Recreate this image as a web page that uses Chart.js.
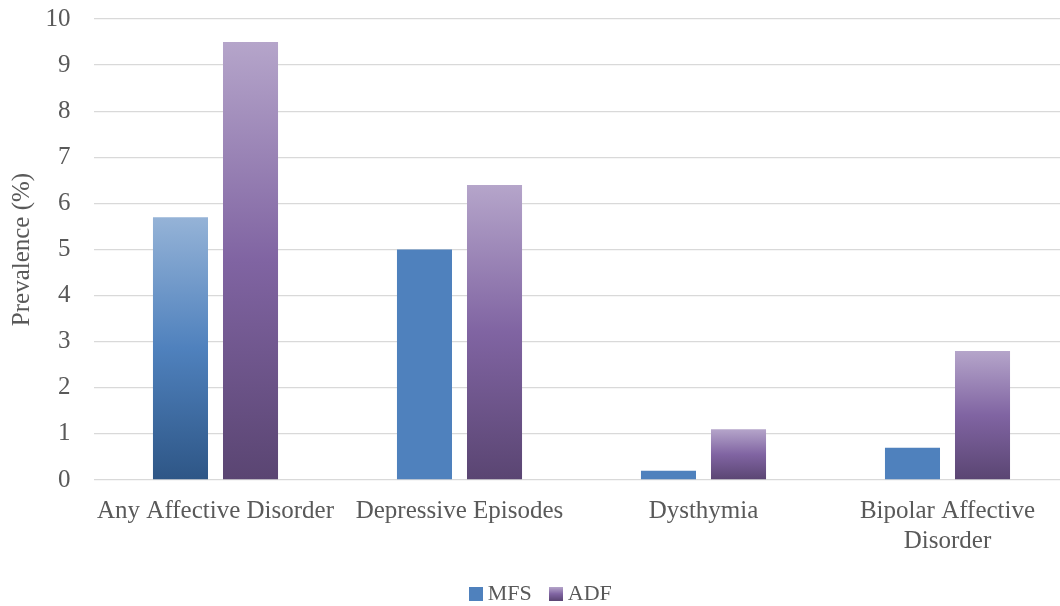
<!DOCTYPE html>
<html>
<head>
<meta charset="utf-8">
<script src="https://cdn.jsdelivr.net/npm/chart.js@4/dist/chart.umd.min.js"></script>
<style>
  html, body { margin: 0; padding: 0; overflow: hidden; background: #fff; }
  #wrap { width: 1080px; height: 615px; }
</style>
</head>
<body>
<div id="wrap"><canvas id="c" width="1080" height="615"></canvas></div>
<script>
// Prevalence of affective disorders, MFS vs ADF
const categories = ['Any Affective Disorder', 'Depressive Episodes', 'Dysthymia', ['Bipolar Affective', 'Disorder']];
const seriesNames = ['MFS', 'ADF'];
const mfsValues = [5.7, 5.0, 0.2, 0.7];
const adfValues = [9.5, 6.4, 1.1, 2.8];
const yTicks = [0, 1, 2, 3, 4, 5, 6, 7, 8, 9, 10];

// colours: light top, base middle, dark bottom
const blueStops = ['#95B3D7', '#4F81BD', '#2E5686'];
const purpleStops = ['#B5A5CA', '#8064A2', '#5A4572'];
const blueSolid = '#4F81BD';
const shadedMfs = [0]; // category indexes whose MFS bar is shaded

const FONT = "'Liberation Serif', 'Times New Roman', serif";
const SIZE = 25;
const LEGEND_SIZE = 22;
const TEXT = '#595959';

function barGradient(ctx, stops) {
  const chart = ctx.chart;
  if (!chart.chartArea || ctx.type !== 'data') return stops[1];
  const y = chart.scales.y;
  const top = y.getPixelForValue(ctx.raw);
  const base = y.getPixelForValue(0);
  if (!isFinite(top) || !isFinite(base) || top === base) return stops[1];
  const g = chart.ctx.createLinearGradient(0, top, 0, base);
  g.addColorStop(0, stops[0]);
  g.addColorStop(0.5, stops[1]);
  g.addColorStop(1, stops[2]);
  return g;
}

function swatch(stops) {
  const cv = document.createElement('canvas');
  cv.width = 14; cv.height = 14;
  const c = cv.getContext('2d');
  if (Array.isArray(stops)) {
    const g = c.createLinearGradient(0, 0, 0, 14);
    g.addColorStop(0, stops[0]); g.addColorStop(0.5, stops[1]); g.addColorStop(1, stops[2]);
    c.fillStyle = g;
  } else {
    c.fillStyle = stops;
  }
  c.fillRect(0, 0, 14, 14);
  return cv;
}
const legendSwatches = [swatch(blueSolid), swatch(purpleStops)];

new Chart(document.getElementById('c'), {
  type: 'bar',
  data: {
    labels: categories,
    datasets: [
      {
        label: seriesNames[0],
        data: mfsValues,
        backgroundColor: (ctx) => shadedMfs.includes(ctx.dataIndex) ? barGradient(ctx, blueStops) : blueSolid,
        borderWidth: 0,
        categoryPercentage: 0.574,
        barPercentage: 0.786
      },
      {
        label: seriesNames[1],
        data: adfValues,
        backgroundColor: (ctx) => barGradient(ctx, purpleStops),
        borderWidth: 0,
        categoryPercentage: 0.574,
        barPercentage: 0.786
      }
    ]
  },
  options: {
    responsive: false,
    animation: false,
    events: [],
    layout: { padding: { top: 19, left: 18, right: 10.5, bottom: 0 } },
    plugins: {
      tooltip: { enabled: false },
      legend: {
        position: 'bottom',
        labels: {
          usePointStyle: true,
          pointStyleWidth: 1,
          padding: 24,
          color: TEXT,
          font: { family: FONT, size: LEGEND_SIZE },
          generateLabels: (chart) => chart.data.datasets.map((ds, i) => ({
            text: ds.label,
            pointStyle: legendSwatches[i],
            fillStyle: i === 0 ? blueSolid : purpleStops[1],
            strokeStyle: 'transparent',
            lineWidth: 0,
            fontColor: TEXT,
            hidden: false,
            datasetIndex: i
          }))
        }
      }
    },
    scales: {
      x: {
        grid: { display: false, drawTicks: false },
        border: { display: false },
        ticks: {
          color: TEXT,
          padding: 16,
          autoSkip: false,
          maxRotation: 0,
          minRotation: 0,
          font: { family: FONT, size: SIZE, lineHeight: 1.2 }
        },
        afterFit: (scale) => { scale.height -= 13; }
      },
      y: {
        min: 0,
        max: 10,
        afterBuildTicks: (scale) => { scale.ticks = yTicks.map(v => ({ value: v })); },
        afterFit: (scale) => { scale.width = 75.5; },
        grid: { color: '#D9D9D9', lineWidth: 1.3, drawTicks: true, tickLength: 23, tickColor: 'rgba(0,0,0,0)' },
        border: { display: false },
        ticks: {
          color: TEXT,
          padding: 0,
          font: { family: FONT, size: SIZE }
        },
        title: {
          display: true,
          text: 'Prevalence (%)',
          color: TEXT,
          padding: { top: -11, bottom: 0 },
          font: { family: FONT, size: SIZE }
        }
      }
    }
  }
});
</script>
</body>
</html>
